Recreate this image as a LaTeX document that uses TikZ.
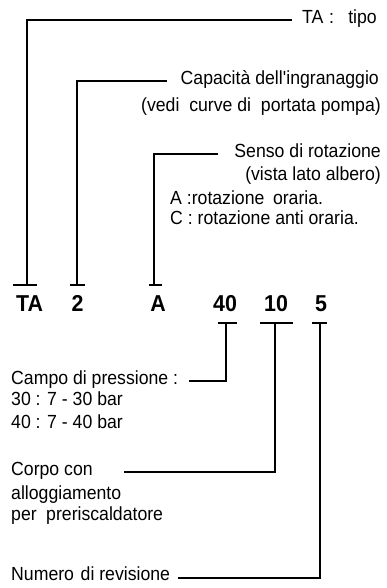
\documentclass[tikz,border=0pt]{standalone}
\usepackage{fontspec}
\setmainfont{Liberation Sans}[FakeStretch=0.93]
\begin{document}
\begin{tikzpicture}[x=1pt,y=-1pt,
  lead/.style={line width=2pt},
  txt/.style={inner sep=0pt,font=\fontsize{19}{22}\selectfont},
  code/.style={inner sep=0pt,font=\fontsize{23}{26}\selectfont\bfseries}]
\useasboundingbox (0,0) rectangle (387,588);
% code letters
\node[code] (cTA) at (29.5,303.5) {TA};
\node[code] (c2) at (77.5,303.5) {2};
\node[code] (cA) at (158,303.5) {A};
\node[code] (c40) at (225,303.5) {40};
\node[code] (c10) at (276,303.5) {10};
\node[code] (c5) at (321,303.5) {5};
% bar coordinates
\coordinate (bTA) at (27,285);
\coordinate (b2) at (77,285);
\coordinate (bA) at (154,285);
\coordinate (b40) at (226,323);
\coordinate (b10) at (275,323);
\coordinate (b5) at (320,323);
% texts
\node[txt,anchor=mid west] (tipo) at (302,21) {TA\hspace{0.3em}:\hspace{0.75em}tipo};
\node[txt,anchor=mid east] (cap) at (379,82) {Capacità dell\textquotesingle ingranaggio};
\node[txt,anchor=mid east] (vedi) at (381,109) {(vedi\ \ curve di\ \ portata pompa)};
\node[txt,anchor=mid east] (senso) at (381,155) {Senso di rotazione};
\node[txt,anchor=mid east] (vista) at (381,178) {(vista lato albero)};
\node[txt,anchor=mid west] (rA) at (170,202) {A :rotazione\hspace{0.45em}oraria.};
\node[txt,anchor=mid west] (rC) at (170,222) {C : rotazione anti oraria.};
\node[txt,anchor=mid west] (campo) at (11,382) {Campo di pressione :};
\node[txt,anchor=mid west] (p30) at (11,403) {30 : 7 - 30 bar};
\node[txt,anchor=mid west] (p40) at (11,426) {40 : 7 - 40 bar};
\node[txt,anchor=mid west] (corpo) at (11,473) {Corpo con};
\node[txt,anchor=mid west] (allog) at (11,497) {alloggiamento};
\node[txt,anchor=mid west] (per) at (11,518) {per\hspace{0.5em}preriscaldatore};
\node[txt,anchor=mid west] (num) at (11,578) {Numero\hspace{0.35em}di revisione};
% line ends at texts
\coordinate (eTA) at (292,20);
\coordinate (e2) at (167,81);
\coordinate (eA) at (218,154);
\coordinate (e40) at (189,381);
\coordinate (e10) at (124,472);
\coordinate (e5) at ([xshift=8pt]num.mid east);
% connectors
\draw[lead] (eTA) -| (bTA);
\draw[lead] (e2) -| (b2);
\draw[lead] (eA) -| (bA);
\draw[lead] (e40) -| (b40);
\draw[lead] (e10) -| (b10);
\draw[lead] (e5) -| (b5);
% T bars
\draw[lead] (13,285) -- (37,285);
\draw[lead] (70,285) -- (85,285);
\draw[lead] (149,285) -- (162,285);
\draw[lead] (218,323) -- (237,323);
\draw[lead] (260,323) -- (293,323);
\draw[lead] (312,323) -- (327,323);
\end{tikzpicture}
\end{document}
